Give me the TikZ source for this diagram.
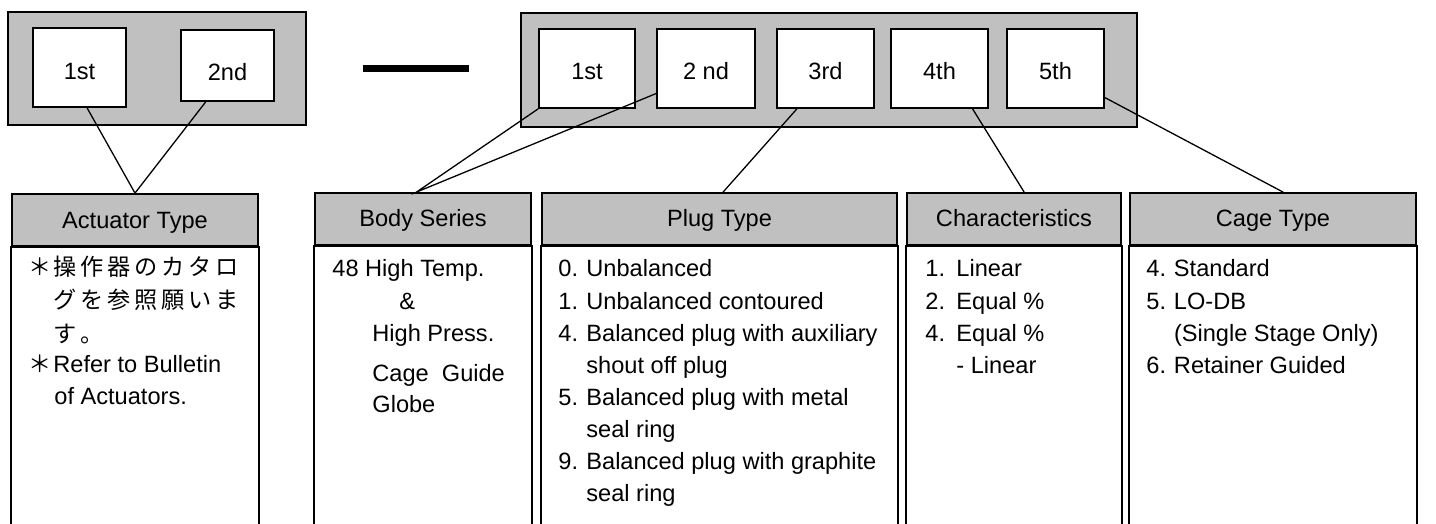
\documentclass[tikz,border=0pt]{standalone}
\usepackage{fontspec}
\setmainfont{Liberation Sans}
\newfontfamily\jpfont{Noto Sans CJK JP}
\usetikzlibrary{calc}
\definecolor{panelgray}{RGB}{192,192,192}
\newcommand\jpch[1]{\makebox[13.5pt][l]{#1}}
\tikzset{
  every node/.style={font=\fontsize{11.8}{16}\selectfont, inner sep=0pt},
  holder/.style={draw, fill=panelgray, line width=0.75pt},
  digit/.style={draw, fill=white, line width=0.9pt},
  hdr/.style={draw, fill=panelgray, line width=0.9pt, minimum height=26pt,
              text height=10pt, text depth=2pt},
  panel/.style={draw, fill=white, line width=0.9pt},
  link/.style={line width=0.65pt},
  txt/.style={anchor=base west},
  jp/.style={anchor=base west, font=\jpfont\fontsize{11.6}{16}\selectfont},
}
\begin{document}
\begin{tikzpicture}[x=0.5pt,y=-0.5pt]
\useasboundingbox (0,0) rectangle (1436,524);
\clip (0,0) rectangle (1436,524);

% holders
\node[holder, minimum width=149pt, minimum height=56.5pt] (gL) at (157,68.5) {};
\node[holder, minimum width=308pt, minimum height=57pt] (gR) at (829,70) {};

% digit boxes
\node[digit, minimum width=46.5pt, minimum height=39.5pt,
      label={[yshift=-2pt]center:1st}] (a1) at (79.5,67.5) {};
\node[digit, minimum width=46.5pt, minimum height=35.5pt,
      label={[yshift=-3.2pt]center:2nd}] (a2) at (227.5,65.5) {};
\node[digit, minimum width=48pt, minimum height=39.5pt,
      label={[yshift=-1.3pt]center:1st}] (b1) at (587,68.5) {};
\node[digit, minimum width=49pt, minimum height=39.5pt,
      label={[yshift=-1.3pt]center:2 nd}] (b2) at (706,68.5) {};
\node[digit, minimum width=48.5pt, minimum height=39.5pt,
      label={[yshift=-1.3pt]center:3rd}] (b3) at (825.5,68.5) {};
\node[digit, minimum width=48.5pt, minimum height=39.5pt,
      label={[yshift=-1.3pt]center:4th}] (b4) at (939.5,68.5) {};
\node[digit, minimum width=48.5pt, minimum height=39.5pt,
      label={[yshift=-1.3pt]center:5th}] (b5) at (1055.5,68.5) {};

% separator bar
\draw[line width=3.5pt] (363,69) -- (469,69);

% headers
\node[hdr, minimum width=123pt] (hA) at (135,220) {Actuator Type};
\node[hdr, minimum width=108pt] (hB) at (423,219) {Body Series};
\node[hdr, minimum width=177.5pt] (hP) at (719.5,219) {Plug Type};
\node[hdr, minimum width=107pt] (hC) at (1014,219) {Characteristics};
\node[hdr, minimum width=143pt] (hG) at (1273,219) {Cage Type};

% panels below headers (open at the bottom edge)
\foreach \h in {hA,hB,hP,hC,hG}
  \draw[panel] (\h.south west) rectangle ($(\h.south east)+(0,320)$);

% connectors
\draw[link] ($(a1.south west)!0.58!(a1.south east)$) -- (hA.north);
\draw[link] ($(a2.south west)!0.27!(a2.south east)$) -- (hA.north);
\draw[link] (b1.south west) -- ($(hB.north west)!0.47!(hB.north east)$)
            -- ($(b2.north west)!0.81!(b2.south west)$);
\draw[link] ($(b3.south west)!0.21!(b3.south east)$) -- ($(hP.north west)!0.51!(hP.north east)$);
\draw[link] ($(b4.south west)!0.835!(b4.south east)$) -- ($(hC.north west)!0.547!(hC.north east)$);
\draw[link] ($(b5.north east)!0.86!(b5.south east)$) -- ($(hG.north west)!0.535!(hG.north east)$);

% Actuator Type text
\node[jp] (j0) at (28,275) {＊};
\node[jp] (j1) at (53,275) {\jpch{操}\jpch{作}\jpch{器}\jpch{の}\jpch{カ}\jpch{タ}\jpch{ロ}};
\node[jp] (j2) at (53,308) {\jpch{グ}\jpch{を}\jpch{参}\jpch{照}\jpch{願}\jpch{い}\jpch{ま}};
\node[jp] (j3) at (53,342) {\jpch{す}\jpch{。}};
\node[jp] (e0) at (28,372) {＊};
\node[txt] (e1) at (53,372) {Refer to Bulletin};
\node[txt] (e2) at (54,404) {of Actuators.};

% Body Series text
\node[txt] (s1) at (332,276) {48 High Temp.};
\node[txt] (s2) at (399,309) {\&};
\node[txt] (s3) at (372,341) {High Press.};
\node[txt] (s4) at (372,381) {Cage~ Guide};
\node[txt] (s5) at (372,412) {Globe};

% Plug Type list
\foreach \n/\t [count=\i] in {0./Unbalanced, 1./Unbalanced contoured,
    4./Balanced plug with auxiliary, /shout off plug,
    5./Balanced plug with metal, /seal ring,
    9./Balanced plug with graphite, /seal ring}
  \node[txt] (p\i) at (558,{277+32*(\i-1)}) {\makebox[14pt][l]{\n}\t};

% Characteristics list
\foreach \n/\t [count=\i] in {1./Linear, 2./Equal \%, 4./Equal \%, /- Linear}
  \node[txt] (c\i) at (925,{277+32*(\i-1)}) {\makebox[15.5pt][l]{\n}\t};

% Cage Type list
\foreach \n/\t [count=\i] in {4./Standard, 5./LO-DB, /(Single Stage Only), 6./Retainer Guided}
  \node[txt] (g\i) at (1146,{277+32*(\i-1)}) {\makebox[13.8pt][l]{\n}\t};
\end{tikzpicture}
\end{document}
